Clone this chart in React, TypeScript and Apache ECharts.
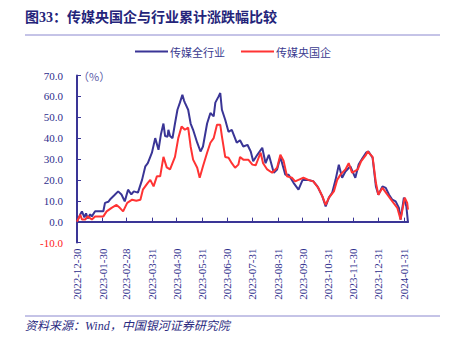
import React, { useEffect, useRef } from "react";
import * as echarts from "echarts";

const titleText = "图33：传媒央国企与行业累计涨跌幅比较";
const sourceText = "资料来源：Wind，中国银河证券研究院";
const unitText = "（%）";
const seriesNames = ["传媒全行业", "传媒央国企"];

const tickDates = [
  "2022-12-30", "2023-01-30", "2023-02-28", "2023-03-31", "2023-04-30",
  "2023-05-31", "2023-06-30", "2023-07-31", "2023-08-31", "2023-09-30",
  "2023-10-31", "2023-11-30", "2023-12-31", "2024-01-31",
];
const axisStart = "2022-12-30";
const axisEnd = "2024-02-05";

const industryDates = [
  "2022-12-30", "2023-01-03", "2023-01-05", "2023-01-08", "2023-01-10", "2023-01-12",
  "2023-01-15", "2023-01-17", "2023-01-21", "2023-01-27", "2023-01-31", "2023-02-02",
  "2023-02-06", "2023-02-09", "2023-02-13", "2023-02-18", "2023-02-22", "2023-02-26",
  "2023-03-02", "2023-03-06", "2023-03-09", "2023-03-14", "2023-03-19", "2023-03-23",
  "2023-03-26", "2023-03-29", "2023-03-31", "2023-04-04", "2023-04-08", "2023-04-11",
  "2023-04-14", "2023-04-16", "2023-04-19", "2023-04-20", "2023-04-22", "2023-04-25",
  "2023-04-28", "2023-05-01", "2023-05-04", "2023-05-07", "2023-05-09", "2023-05-10",
  "2023-05-14", "2023-05-17", "2023-05-20", "2023-05-25", "2023-05-29", "2023-06-01",
  "2023-06-06", "2023-06-10", "2023-06-14", "2023-06-16", "2023-06-20", "2023-06-22",
  "2023-06-24", "2023-06-28", "2023-07-02", "2023-07-06", "2023-07-12", "2023-07-16",
  "2023-07-20", "2023-07-25", "2023-07-29", "2023-08-01", "2023-08-06", "2023-08-12",
  "2023-08-16", "2023-08-20", "2023-08-26", "2023-08-30", "2023-09-03", "2023-09-09",
  "2023-09-13", "2023-09-19", "2023-09-25", "2023-09-30", "2023-10-06", "2023-10-13",
  "2023-10-18", "2023-10-24", "2023-10-28", "2023-11-01", "2023-11-05", "2023-11-09",
  "2023-11-13", "2023-11-17", "2023-11-21", "2023-11-27", "2023-12-03", "2023-12-07",
  "2023-12-12", "2023-12-16", "2023-12-19", "2023-12-24", "2023-12-28", "2023-12-31",
  "2024-01-05", "2024-01-09", "2024-01-13", "2024-01-17", "2024-01-21", "2024-01-25",
  "2024-01-27", "2024-01-31", "2024-02-03", "2024-02-05",
];
const industryValues = [
  0, 3.5, 4.9, 2, 4, 1.5,
  3.5, 2.5, 5, 5, 5, 9,
  9.5, 11, 12.5, 14.5, 13, 9.7,
  15.3, 13, 14.5, 13.9, 20, 26.5,
  28, 31, 33, 40, 34.4, 42,
  47, 41, 40.7, 44, 41, 40,
  47, 53.6, 57, 60.8, 58, 57,
  53.6, 47, 44, 37.8, 33.6, 36,
  47, 52, 50.4, 57, 60, 61.6,
  53.6, 48.8, 43, 44, 37.8, 39,
  36, 36.8, 33.6, 28.9, 32, 35.4,
  28, 32, 23.4, 25, 31, 22.5,
  22.5, 18.6, 15.3, 20, 20, 19.3,
  16.9, 12.1, 7.3, 11.5, 13.9, 20,
  27.3, 21, 24, 26.5, 21, 27.3,
  30.6, 33, 33.6, 30.6, 16.9, 12.9,
  16.9, 16.2, 12.9, 10.5, 9.7, 6.6,
  1, 11.5, 7.3, -0.5,
];

const soeDates = [
  "2022-12-30", "2023-01-03", "2023-01-05", "2023-01-09", "2023-01-12", "2023-01-17",
  "2023-01-21", "2023-01-27", "2023-01-31", "2023-02-04", "2023-02-10", "2023-02-16",
  "2023-02-20", "2023-02-24", "2023-03-01", "2023-03-07", "2023-03-12", "2023-03-17",
  "2023-03-20", "2023-03-26", "2023-03-29", "2023-04-02", "2023-04-06", "2023-04-10",
  "2023-04-14", "2023-04-18", "2023-04-22", "2023-04-28", "2023-05-02", "2023-05-06",
  "2023-05-10", "2023-05-14", "2023-05-17", "2023-05-20", "2023-05-25", "2023-05-28",
  "2023-06-01", "2023-06-06", "2023-06-10", "2023-06-14", "2023-06-18", "2023-06-22",
  "2023-06-24", "2023-06-28", "2023-07-02", "2023-07-06", "2023-07-10", "2023-07-14",
  "2023-07-16", "2023-07-20", "2023-07-26", "2023-07-31", "2023-08-04", "2023-08-07",
  "2023-08-10", "2023-08-13", "2023-08-18", "2023-08-24", "2023-08-30", "2023-09-03",
  "2023-09-07", "2023-09-11", "2023-09-17", "2023-09-21", "2023-09-25", "2023-10-01",
  "2023-10-07", "2023-10-13", "2023-10-19", "2023-10-24", "2023-10-28", "2023-11-01",
  "2023-11-07", "2023-11-11", "2023-11-15", "2023-11-21", "2023-11-25", "2023-11-29",
  "2023-12-06", "2023-12-10", "2023-12-16", "2023-12-18", "2023-12-24", "2023-12-28",
  "2023-12-31", "2024-01-05", "2024-01-11", "2024-01-17", "2024-01-23", "2024-01-27",
  "2024-02-01", "2024-02-04", "2024-02-05",
];
const soeValues = [
  0, 3.3, 1, 1, 2.5, 1,
  2.5, 2.5, 2.5, 4.9, 6.6, 8,
  6.6, 4.9, 9, 10.5, 10, 10.5,
  15.3, 18.6, 20, 16.9, 21.7, 21.7,
  31, 26, 25, 31, 40, 45.6,
  44, 45, 36, 29.7, 25.8, 21,
  26.5, 33, 37.8, 40, 46.4, 46.4,
  40.8, 31, 30.6, 28, 25.8, 27.3,
  31, 29.7, 29.7, 27.3, 27, 30,
  33, 28, 25, 23.4, 25.8, 32,
  29, 21.7, 21, 19.3, 20, 21,
  20, 19.3, 16.2, 12.1, 8, 11.5,
  14.5, 20, 22.5, 25, 28, 23.4,
  25, 28.9, 32, 33.6, 31, 18.6,
  12.9, 16.2, 12.9, 9.7, 6.6, 1,
  11.5, 9, 5.7,
];

const yMin = -10;
const yMax = 70;
const yInterval = 10;

const BLUE = "#3A3596";
const RED = "#FF3333";
const TEXT_BLUE = "#2E2E8C";
const RULE = "#8B88CF";
const SERIF = "'Liberation Serif', 'Times New Roman', 'Noto Sans CJK SC', serif";

const ts = (d: string) => Date.parse(d);
const fmtDate = (v: number) => {
  const d = new Date(v);
  const m = String(d.getUTCMonth() + 1).padStart(2, "0");
  const day = String(d.getUTCDate()).padStart(2, "0");
  return `${d.getUTCFullYear()}-${m}-${day}`;
};

export default function App() {
  const ref = useRef<HTMLDivElement>(null);

  useEffect(() => {
    if (!ref.current) return;
    const chart = echarts.init(ref.current, undefined, { renderer: "svg" });
    const tickNums = tickDates.map(ts);
    const xMin = ts(axisStart);
    const xMax = ts(axisEnd);

    chart.setOption({
      animation: false,
      backgroundColor: "#ffffff",
      grid: { left: 77, right: 41, top: 75.5, bottom: 99.5, containLabel: false },
      legend: {
        left: 130,
        top: 41,
        icon: "rect",
        itemWidth: 33,
        itemHeight: 2,
        itemGap: 16,
        textStyle: { color: "#3B3B8F", fontSize: 11, fontFamily: "'Noto Sans CJK SC', sans-serif", padding: [0, 0, 0, -3] },
        data: seriesNames,
      },
      xAxis: [
        {
          type: "value",
          min: xMin,
          max: xMax,
          position: "bottom",
          axisLine: { show: true, onZero: true, lineStyle: { color: BLUE, width: 2 } },
          axisTick: { show: true, inside: true, length: 4, customValues: tickNums, lineStyle: { color: BLUE, width: 1 } },
          axisLabel: { show: false },
          splitLine: { show: false },
        },
        {
          type: "value",
          min: xMin,
          max: xMax,
          position: "bottom",
          axisLine: { show: false, onZero: false },
          axisTick: { show: false },
          splitLine: { show: false },
          axisLabel: {
            show: true,
            rotate: 90,
            margin: 6,
            customValues: tickNums,
            formatter: (v: number) => fmtDate(v),
            color: TEXT_BLUE,
            fontSize: 11,
            fontFamily: SERIF,
          },
        },
      ],
      yAxis: {
        type: "value",
        min: yMin,
        max: yMax,
        interval: yInterval,
        axisLine: { show: true, lineStyle: { color: BLUE, width: 2 } },
        axisTick: { show: true, inside: true, length: 4, lineStyle: { color: BLUE, width: 1 } },
        splitLine: { show: false },
        axisLabel: {
          margin: 14,
          fontSize: 11,
          fontFamily: SERIF,
          formatter: (v: number) => v.toFixed(1),
          color: (v: any) => (Number(v) < 0 ? "#FF2020" : TEXT_BLUE),
        },
      },
      series: [
        {
          name: seriesNames[0],
          type: "line",
          xAxisIndex: 0,
          showSymbol: false,
          symbol: "none",
          color: BLUE,
          lineStyle: { color: BLUE, width: 2 },
          data: industryDates.map((d, i) => [ts(d), industryValues[i]]),
        },
        {
          name: seriesNames[1],
          type: "line",
          xAxisIndex: 0,
          showSymbol: false,
          symbol: "none",
          color: RED,
          lineStyle: { color: RED, width: 2 },
          data: soeDates.map((d, i) => [ts(d), soeValues[i]]),
        },
      ],
      graphic: [
        {
          type: "text",
          left: 25,
          top: 10,
          style: { text: titleText, font: `bold 14px ${SERIF}`, fill: "#24247A" },
        },
        { type: "line", shape: { x1: 25, y1: 35, x2: 440, y2: 35 }, style: { stroke: RULE, lineWidth: 1 } },
        {
          type: "text",
          left: 78,
          top: 70,
          style: { text: unitText, font: `11px 'Noto Sans CJK SC', sans-serif`, fill: "#5A5AA8" },
        },
        { type: "line", shape: { x1: 25, y1: 316, x2: 440, y2: 316 }, style: { stroke: RULE, lineWidth: 1 } },
        {
          type: "text",
          left: 25,
          top: 320,
          style: { text: sourceText, font: `italic 12px ${SERIF}`, fill: "#2B2B7F" },
        },
      ],
    });
    return () => chart.dispose();
  }, []);

  return <div ref={ref} style={{ width: 449, height: 342, margin: -8 }} />;
}
